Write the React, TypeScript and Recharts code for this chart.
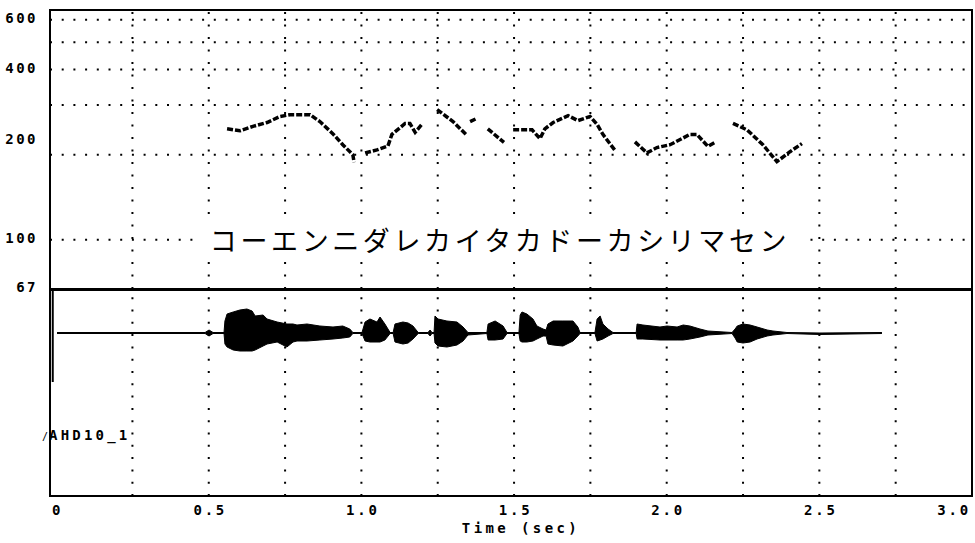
import { LineChart, Line, AreaChart, Area, XAxis, YAxis, ReferenceLine } from 'recharts';

// F0 contour (sec, Hz); null = unvoiced gap
const f0Times = [
  0.56, 0.602, 0.645, 0.691, 0.733, 0.766, 0.832, 0.864, 0.907, 0.939, 0.972, 0.976, 0.99,
  1.012, 1.051, 1.087, 1.1, 1.143, 1.159, 1.176, 1.198, 1.22,
  1.248, 1.3, 1.346, 1.35, 1.356, 1.378, 1.395, 1.414, 1.467, 1.48,
  1.497, 1.529, 1.559, 1.585, 1.601, 1.628, 1.677, 1.709, 1.749, 1.772, 1.791, 1.831, 1.86,
  1.896, 1.935, 1.968, 2.011, 2.05, 2.076, 2.099, 2.135, 2.158, 2.19,
  2.217, 2.263, 2.315, 2.361, 2.404, 2.443,
];
const f0Values = [
  247, 243, 252, 260, 273, 277, 277, 262, 237, 217, 200, 188, null,
  203, 208, 215, 236, 258, 258, 240, 256, null,
  289, 262, 234, null, 262, 269, null, 247, 221, null,
  245, 245, 245, 228, 247, 260, 275, 264, 273, 256, 236, 207, null,
  222, 203, 212, 217, 228, 236, 236, 214, 221, null,
  258, 245, 217, 189, 205, 219,
];

// waveform envelope (sec, upper / lower amplitude, arbitrary units)
const waveTimes = [
  0.003, 0.488, 0.501, 0.514, 0.55, 0.553, 0.56, 0.58, 0.602, 0.625, 0.642, 0.652, 0.678, 0.691,
  0.724, 0.756, 0.776, 0.789, 0.822, 0.864, 0.907, 0.939, 0.962, 0.972, 1.002, 1.012, 1.028,
  1.051, 1.061, 1.077, 1.094, 1.104, 1.11, 1.136, 1.153, 1.169, 1.186, 1.218, 1.225, 1.231,
  1.238, 1.241, 1.251, 1.28, 1.313, 1.333, 1.349, 1.411, 1.415, 1.438, 1.464, 1.477, 1.516,
  1.52, 1.526, 1.542, 1.562, 1.575, 1.595, 1.605, 1.611, 1.628, 1.66, 1.693, 1.709, 1.716,
  1.765, 1.772, 1.782, 1.791, 1.808, 1.824, 1.9, 1.903, 1.922, 1.978, 2.001, 2.034, 2.054,
  2.076, 2.109, 2.135, 2.214, 2.224, 2.231, 2.25, 2.273, 2.296, 2.329, 2.348, 2.394, 2.502, 2.705,
];
const waveHigh = [
  0.5, 0.5, 3, 0.5, 0.5, 12, 19, 21, 23, 24, 22, 17, 18, 14,
  11, 9, 9, 8, 9, 7, 6, 7, 4, 0.5, 0.5, 11, 14,
  11, 16, 9, 0.5, 0.5, 9, 11, 10, 7, 0.5, 0.5, 3, 0.5,
  0.5, 17, 14, 12, 11, 6, 0.5, 0.5, 9, 12, 7, 0.5, 0.5,
  18, 21, 19, 14, 7, 4, 3, 9, 12, 12, 12, 6, 0.5,
  0.5, 14, 17, 9, 4, 0.5, 0.5, 9, 8, 6, 7, 6, 8,
  7, 4, 2, 0.5, 4, 7, 9, 8, 6, 3, 2, 0.5, 0, 0.5,
];
const waveLow = [
  -0.5, -0.5, -3, -0.5, -0.5, -11, -14, -17, -18, -18, -18, -17, -13, -11,
  -9, -14, -9, -8, -8, -7, -6, -5, -4, -0.5, -0.5, -8, -9,
  -9, -9, -7, -0.5, -0.5, -9, -11, -10, -6, -0.5, -0.5, -3, -0.5,
  -0.5, -10, -13, -14, -12, -8, -2, -0.5, -7, -7, -6, -0.5, -0.5,
  -8, -9, -9, -8, -6, -3, -3, -11, -12, -13, -8, -3, -0.5,
  -0.5, -8, -7, -6, -3, -0.5, -0.5, -6, -6, -7, -7, -7, -7,
  -6, -4, -2, -0.5, -5, -9, -10, -9, -6, -3, -2, -0.5, -1.5, -0.5,
];

const timeTicks = [0, 0.5, 1, 1.5, 2, 2.5, 3];
const timeGrid = [0.25, 0.5, 0.75, 1, 1.25, 1.5, 1.75, 2, 2.25, 2.5, 2.75];
const freqTicks = [67, 100, 200, 400, 600];
const freqGrid = [100, 200, 300, 400, 500, 600];
const phrase = 'コーエンニダレカイタカドーカシリマセン';
const speaker = 'AHD10_1';

const f0Data = f0Times.map((t, i) => ({ t, f0: f0Values[i] }));
const waveData = waveTimes.map((t, i) => ({ t, amp: [waveLow[i], waveHigh[i]] }));

const mono = '"DejaVu Sans Mono", monospace';
const timeDomain: [number, number] = [-0.02, 3.0];

const FreqTick = ({ x, y, payload }: any) => (
  <text
    x={x - 10}
    y={y}
    dy={payload.value === 200 ? -11 : 3}
    textAnchor="end"
    fontFamily={mono}
    fontWeight="bold"
    fontSize={14}
    letterSpacing={2.5}
    fill="#000"
  >
    {payload.value}
  </text>
);

const TimeTick = ({ x, y, payload }: any) => {
  const last = payload.value === 3;
  const label = payload.value === 0 ? '0' : payload.value.toFixed(1);
  return (
    <text
      x={last ? x - 1 : x + 1.5}
      y={y}
      dy={17}
      textAnchor={last ? 'end' : 'middle'}
      fontFamily={mono}
      fontWeight="bold"
      fontSize={14}
      letterSpacing={2.8}
      fill="#000"
    >
      {label}
    </text>
  );
};

const TimeLabel = ({ viewBox }: any) => (
  <text
    x={viewBox.x + viewBox.width / 2 + 10}
    y={viewBox.y + 37}
    textAnchor="middle"
    fontFamily={mono}
    fontWeight="bold"
    fontSize={14}
    letterSpacing={3.4}
    fill="#000"
  >
    Time (sec)
  </text>
);

const dotted = { stroke: '#000', strokeWidth: 2 };

export default function App() {
  return (
    <div style={{ position: 'absolute', left: 0, top: 0, width: 975, height: 543, background: '#fff' }}>
      <div style={{ position: 'absolute', left: 0, top: 289 }}>
        <AreaChart width={975} height={254} data={waveData} margin={{ top: 0, right: 3, left: 50, bottom: 0 }}>
          <XAxis
            dataKey="t"
            type="number"
            domain={timeDomain}
            allowDataOverflow
            ticks={timeTicks}
            interval={0}
            height={47}
            tickSize={0}
            tickLine={false}
            axisLine={false}
            tick={<TimeTick />}
            label={<TimeLabel />}
          />
          <YAxis type="number" domain={[-163, 44]} allowDataOverflow hide />
          {timeGrid.map((v) => (
            <ReferenceLine key={'w' + v} x={v} {...dotted} strokeDasharray="2 10.3" />
          ))}
          <ReferenceLine
            segment={[
              { x: -0.011, y: 44 },
              { x: -0.011, y: -49 },
            ]}
            stroke="#000"
            strokeWidth={2}
          />
          <Area
            dataKey="amp"
            type="linear"
            stroke="#000"
            strokeWidth={1}
            fill="#000"
            fillOpacity={1}
            isAnimationActive={false}
          />
        </AreaChart>
      </div>
      <div style={{ position: 'absolute', left: 0, top: 0 }}>
        <LineChart width={975} height={300} data={f0Data} margin={{ top: 10, right: 3, left: 0, bottom: 11 }}>
          <XAxis dataKey="t" type="number" domain={timeDomain} allowDataOverflow hide />
          <YAxis
            type="number"
            scale="log"
            domain={[67, 650]}
            allowDataOverflow
            ticks={freqTicks}
            interval={0}
            width={50}
            tickSize={0}
            tickLine={false}
            axisLine={false}
            tick={<FreqTick />}
          />
          {freqGrid.map((v) => (
            <ReferenceLine key={'h' + v} y={v} {...dotted} strokeDasharray="2 9.7" />
          ))}
          {timeGrid.map((v) => (
            <ReferenceLine key={'v' + v} x={v} {...dotted} strokeDasharray="2 10.5" />
          ))}
          <Line
            dataKey="f0"
            type="linear"
            stroke="#000"
            strokeWidth={3.5}
            strokeDasharray="6 2"
            dot={false}
            connectNulls={false}
            isAnimationActive={false}
          />
        </LineChart>
      </div>

      {/* frame and panel divider */}
      <div
        style={{
          position: 'absolute',
          left: 49,
          top: 9,
          width: 924,
          height: 488,
          border: '2.5px solid #000',
          boxSizing: 'border-box',
          pointerEvents: 'none',
        }}
      />
      <div style={{ position: 'absolute', left: 49, top: 288, width: 924, height: 2.5, background: '#000' }} />

      <div
        style={{
          position: 'absolute',
          left: 195,
          top: 222,
          width: 610,
          height: 36,
          background: '#fff',
          textAlign: 'center',
          fontFamily: '"Noto Sans CJK JP", sans-serif',
          fontSize: 27,
          letterSpacing: 3.6,
          lineHeight: '36px',
          color: '#000',
        }}
      >
        {phrase}
      </div>
      <div
        style={{
          position: 'absolute',
          left: 42,
          top: 426,
          fontFamily: mono,
          fontWeight: 'bold',
          fontSize: 14,
          letterSpacing: 3.2,
          lineHeight: '18px',
          color: '#000',
        }}
      >
        <span style={{ fontWeight: 'normal', fontSize: 10, letterSpacing: 1 }}>/</span>
        {speaker}
      </div>
    </div>
  );
}
